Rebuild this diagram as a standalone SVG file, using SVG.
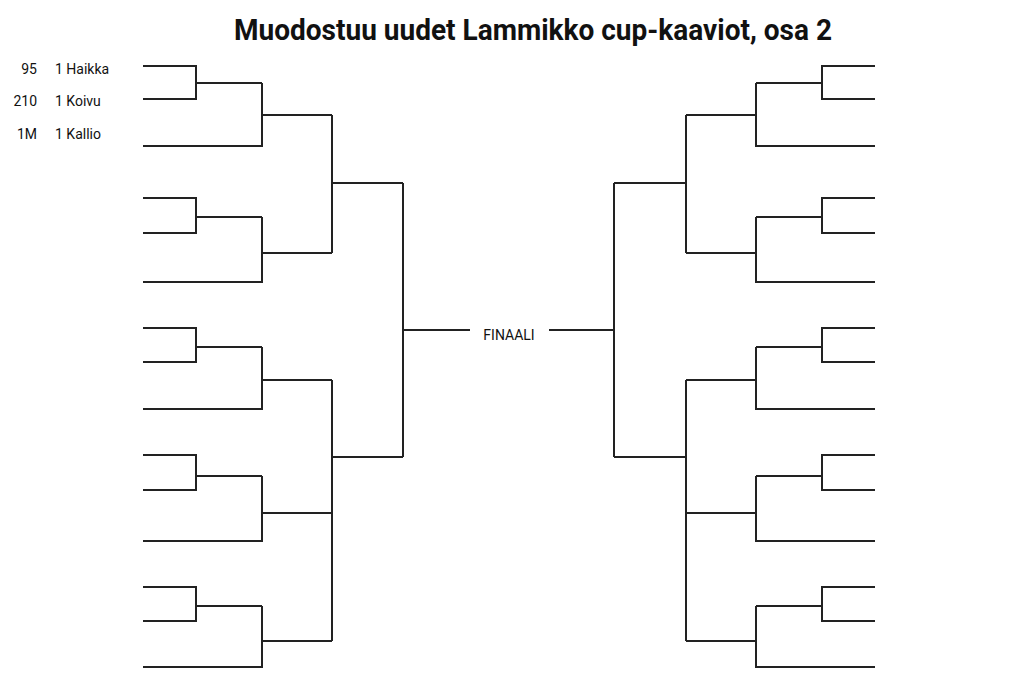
<svg xmlns="http://www.w3.org/2000/svg" width="1024" height="683" viewBox="0 0 1024 683">
<style>
.l{fill:none;stroke:#222;stroke-width:2}
.t{font-family:Roboto,"Liberation Sans",sans-serif;font-size:14px;fill:#111}
</style>
<rect width="1024" height="683" fill="#fff"/>
<text x="533" y="40" text-anchor="middle" font-family="Roboto,'Liberation Sans',sans-serif" font-weight="bold" font-size="30" textLength="598" lengthAdjust="spacingAndGlyphs" fill="#111">Muodostuu uudet Lammikko cup-kaaviot, osa 2</text>
<g id="entries">
<text class="t" x="37" y="74" text-anchor="end">95</text><text class="t" x="55" y="74">1 Haikka</text>
<text class="t" x="37" y="106" text-anchor="end">210</text><text class="t" x="55" y="106">1 Koivu</text>
<text class="t" x="37" y="139" text-anchor="end">1M</text><text class="t" x="55" y="139">1 Kallio</text>
</g>
<g id="final"><text class="t" x="509" y="340" text-anchor="middle">FINAALI</text></g>
<g id="connectors" class="l">
<!-- left -->
<path d="M143 66H196V99H143M196 83H262M143 146H262V83M262 115H332"/>
<path d="M143 198H196V233H143M196 217H262M143 282H262V217M262 253H332"/>
<path d="M143 328H196V362H143M196 347H262M143 409H262V347M262 380H332"/>
<path d="M143 455H196V490H143M196 476H262M143 541H262V476M262 513H332"/>
<path d="M143 587H196V621H143M196 606H262M143 667H262V606M262 641H332"/>
<path d="M332 115V253M332 183H403M332 380V641M332 457H403M403 183V457M403 330H470"/>
<!-- right -->
<path d="M875 66H822V99H875M822 83H756M875 146H756V83M756 115H686"/>
<path d="M875 198H822V233H875M822 217H756M875 282H756V217M756 253H686"/>
<path d="M875 328H822V362H875M822 347H756M875 409H756V347M756 380H686"/>
<path d="M875 455H822V490H875M822 476H756M875 541H756V476M756 513H686"/>
<path d="M875 587H822V621H875M822 606H756M875 667H756V606M756 641H686"/>
<path d="M686 115V253M686 183H614M686 380V641M686 457H614M614 183V457M614 330H549"/>
</g>
</svg>
